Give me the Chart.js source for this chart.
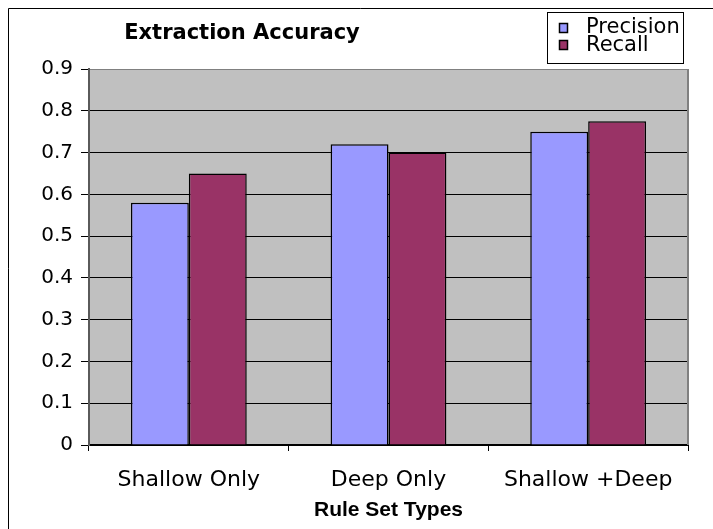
<!DOCTYPE html>
<html>
<head>
<meta charset="utf-8">
<script src="https://cdn.jsdelivr.net/npm/chart.js@4"></script>
<style>
  body { margin: 0; background: #fff; }
</style>
</head>
<body>
<canvas id="accChart" width="713" height="529"></canvas>
<script>
// === Data ===
const categories = ["Shallow Only", "Deep Only", "Shallow +Deep"];
const precision = [0.58, 0.72, 0.75];
const recall = [0.65, 0.70, 0.775];
const seriesNames = ["Precision", "Recall"];
const seriesColors = ["#9999FF", "#993366"];

const chartTitle = "Extraction Accuracy";
const xTitle = "Rule Set Types";

// === Frame, title, legend and axis title ===
const decorPlugin = {
  id: "decor",
  beforeDraw(chart) {
    const c = chart.ctx;
    const a = chart.chartArea;
    c.save();
    c.fillStyle = "#fff";
    c.fillRect(0, 0, chart.width, chart.height);
    // outer frame (only top/left are visible)
    c.strokeStyle = "#000";
    c.lineWidth = 1;
    c.beginPath();
    c.moveTo(8.5, chart.height);
    c.lineTo(8.5, 8.5);
    c.lineTo(chart.width, 8.5);
    c.stroke();
    // plot area fill
    c.fillStyle = "#C0C0C0";
    c.fillRect(a.left, a.top, a.right - a.left, a.bottom - a.top);
    c.restore();
  },
  afterDraw(chart) {
    const c = chart.ctx;
    const a = chart.chartArea;
    c.save();
    // right border of the plot area
    c.strokeStyle = "#808080";
    c.lineWidth = 2;
    c.beginPath();
    c.moveTo(a.right, a.top);
    c.lineTo(a.right, a.bottom);
    c.stroke();

    // title
    c.fillStyle = "#000";
    c.textAlign = "center";
    c.textBaseline = "alphabetic";
    c.font = "bold 21px 'DejaVu Sans'";
    c.fillText(chartTitle, 242, 39);

    // axis title
    c.font = "bold 21px 'Liberation Sans'";
    c.fillText(xTitle, (a.left + a.right) / 2, 516);

    // legend
    c.fillStyle = "#fff";
    c.fillRect(547.5, 12.5, 136, 51);
    c.strokeStyle = "#000";
    c.lineWidth = 1;
    c.strokeRect(547.5, 12.5, 136, 51);
    c.font = "21px 'DejaVu Sans'";
    c.textAlign = "left";
    const rows = [{ top: 23.5, base: 33 }, { top: 40.5, base: 51 }];
    seriesNames.forEach((name, i) => {
      c.fillStyle = seriesColors[i];
      c.fillRect(559.5, rows[i].top, 8, 9);
      c.lineWidth = 1.5;
      c.strokeRect(559.5, rows[i].top, 8, 9);
      c.fillStyle = "#000";
      c.fillText(name, 586, rows[i].base);
    });
    c.restore();
  }
};

const ctx = document.getElementById("accChart").getContext("2d");

new Chart(ctx, {
  type: "bar",
  data: {
    labels: categories,
    datasets: [
      {
        label: seriesNames[0],
        data: precision,
        backgroundColor: seriesColors[0],
        borderColor: "#000",
        borderWidth: 1.5
      },
      {
        label: seriesNames[1],
        data: recall,
        backgroundColor: seriesColors[1],
        borderColor: "#000",
        borderWidth: 1.5
      }
    ]
  },
  options: {
    responsive: false,
    animation: false,
    devicePixelRatio: 1,
    layout: { padding: { left: 0, right: 25, top: 69, bottom: 0 } },
    datasets: {
      bar: { barPercentage: 1.0, categoryPercentage: 0.58 }
    },
    plugins: {
      legend: { display: false },
      title: { display: false },
      tooltip: { enabled: false }
    },
    scales: {
      x: {
        afterFit: s => { s.height = 84; },
        grid: {
          drawOnChartArea: false,
          color: "#000",
          tickColor: "#000",
          tickLength: 6
        },
        border: { color: "#000", width: 2 },
        ticks: {
          color: "#000",
          font: { family: "DejaVu Sans", size: 22 },
          padding: 16,
          maxRotation: 0
        }
      },
      y: {
        min: 0,
        max: 0.9,
        afterFit: s => { s.width = 89; },
        grid: {
          color: c => (c.tick && Math.abs(c.tick.value - 0.9) < 1e-6) ? "#808080" : "#000",
          tickColor: "#000",
          tickLength: 8,
          lineWidth: 1
        },
        border: { color: "#5a5a5a", width: 2 },
        ticks: {
          stepSize: 0.1,
          color: "#000",
          padding: 8,
          font: { family: "DejaVu Sans", size: 20 },
          callback: v => String(Math.round(v * 10) / 10)
        }
      }
    }
  },
  plugins: [decorPlugin]
});
</script>
</body>
</html>
